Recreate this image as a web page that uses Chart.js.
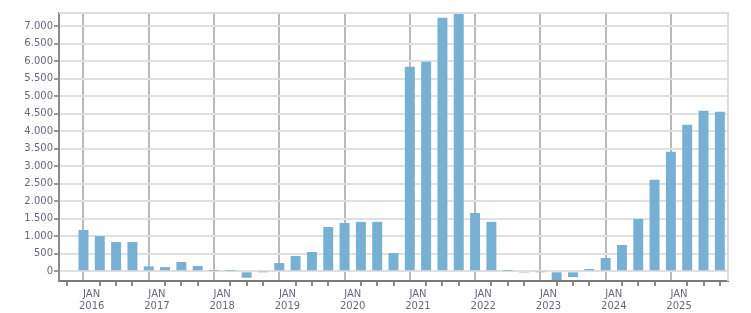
<!DOCTYPE html>
<html>
<head>
<meta charset="utf-8">
<script src="https://cdn.jsdelivr.net/npm/chart.js@4"></script>
<style>
  html, body { margin: 0; padding: 0; background: #fff; }
  #wrap { width: 751px; height: 313px; }
</style>
</head>
<body>
<div id="wrap"><canvas id="chartQ"></canvas></div>
<script>
// quarters, Q4 2015 .. Q3 2025
const years =    [2015, 2016, 2016, 2016, 2016, 2017, 2017, 2017, 2017, 2018, 2018, 2018, 2018, 2019, 2019, 2019, 2019, 2020, 2020, 2020, 2020, 2021, 2021, 2021, 2021, 2022, 2022, 2022, 2022, 2023, 2023, 2023, 2023, 2024, 2024, 2024, 2024, 2025, 2025, 2025];
const quarters = [4, 1, 2, 3, 4, 1, 2, 3, 4, 1, 2, 3, 4, 1, 2, 3, 4, 1, 2, 3, 4, 1, 2, 3, 4, 1, 2, 3, 4, 1, 2, 3, 4, 1, 2, 3, 4, 1, 2, 3];
const values = [1180, 1005, 835, 835, 140, 120, 265, 150, 10, 10, -185, -10,
  235, 435, 550, 1265, 1380, 1410, 1410, 520,
  5835, 5980, 7235, 7355, 1665, 1410, 10, -40, -10, -250, -165, 65,
  380, 750, 1495, 2610, 3410, 4180, 4580, 4550];

const yMin = -277, yMax = 7371;
const yTicks = [0, 500, 1000, 1500, 2000, 2500, 3000, 3500, 4000, 4500, 5000, 5500, 6000, 6500, 7000];
const xMin = 2015.5, xMax = 2025.75;
const monthLabel = 'JAN';

const textColor = '#6b6680';
const barColor = '#78b0d3';

function fmt(v) {
  let s = String(Math.abs(v));
  s = s.replace(/\B(?=(\d{3})+(?!\d))/g, '.');
  return (v < 0 ? '-' : '') + s;
}
function isYear(v) { return Math.abs(v - Math.round(v)) < 1e-6; }

const points = values.map((v, i) => ({ x: years[i] + (quarters[i] - 0.5) / 4, y: v }));

const frame = {
  id: 'frame',
  afterDraw(chart) {
    const a = chart.chartArea, c = chart.ctx;
    c.save();
    c.strokeStyle = '#dcdcdc';
    c.lineWidth = 2;
    c.beginPath();
    c.moveTo(a.left, a.top);
    c.lineTo(a.right, a.top);
    c.lineTo(a.right, a.bottom);
    c.stroke();
    c.restore();
  }
};

Chart.defaults.font.family = '"DejaVu Sans", Verdana, sans-serif';
Chart.defaults.font.size = 10;
Chart.defaults.color = textColor;

const ctx = document.getElementById('chartQ').getContext('2d');
const myChart = new Chart(ctx, {
  type: 'bar',
  data: {
    datasets: [{
      data: points,
      backgroundColor: barColor,
      borderWidth: 0,
      barPercentage: 0.61,
      categoryPercentage: 1
    }]
  },
  options: {
    responsive: true,
    maintainAspectRatio: false,
    animation: false,
    layout: { padding: { top: 13, right: 23, left: 0, bottom: 0 } },
    plugins: { legend: { display: false }, tooltip: { enabled: false } },
    scales: {
      x: {
        type: 'linear',
        offset: false,
        min: xMin,
        max: xMax,
        afterBuildTicks: (scale) => {
          const t = [];
          for (let k = 1; k < 41; k++) t.push({ value: Math.round((xMin + k * 0.25) * 100) / 100 });
          scale.ticks = t;
        },
        afterFit: (scale) => { scale.height = 32; },
        ticks: {
          autoSkip: false,
          maxRotation: 0,
          padding: 2,
          font: { lineHeight: 1.25 },
          callback: (v) => isYear(v) ? [monthLabel, String(Math.round(v))] : ''
        },
        grid: {
          color: (c) => (c.tick && isYear(c.tick.value)) ? '#b9b9b9' : 'rgba(0,0,0,0)',
          lineWidth: 2,
          tickColor: (c) => (c.tick && (isYear(c.tick.value) || c.tick.value >= xMax)) ? 'rgba(0,0,0,0)' : '#8a8a8a',
          tickLength: 5,
          drawTicks: true
        },
        border: { color: '#7a7a7a', width: 2 }
      },
      y: {
        min: yMin,
        max: yMax,
        afterBuildTicks: (scale) => { scale.ticks = yTicks.map(v => ({ value: v })); },
        afterFit: (scale) => { scale.width = 59; },
        ticks: {
          padding: 1,
          callback: (v) => fmt(v)
        },
        grid: {
          color: '#e0e0e0',
          lineWidth: 2,
          tickColor: '#9a9a9a',
          tickLength: 5
        },
        border: { color: '#8a8a8a', width: 2 }
      }
    }
  },
  plugins: [frame]
});
</script>
</body>
</html>
